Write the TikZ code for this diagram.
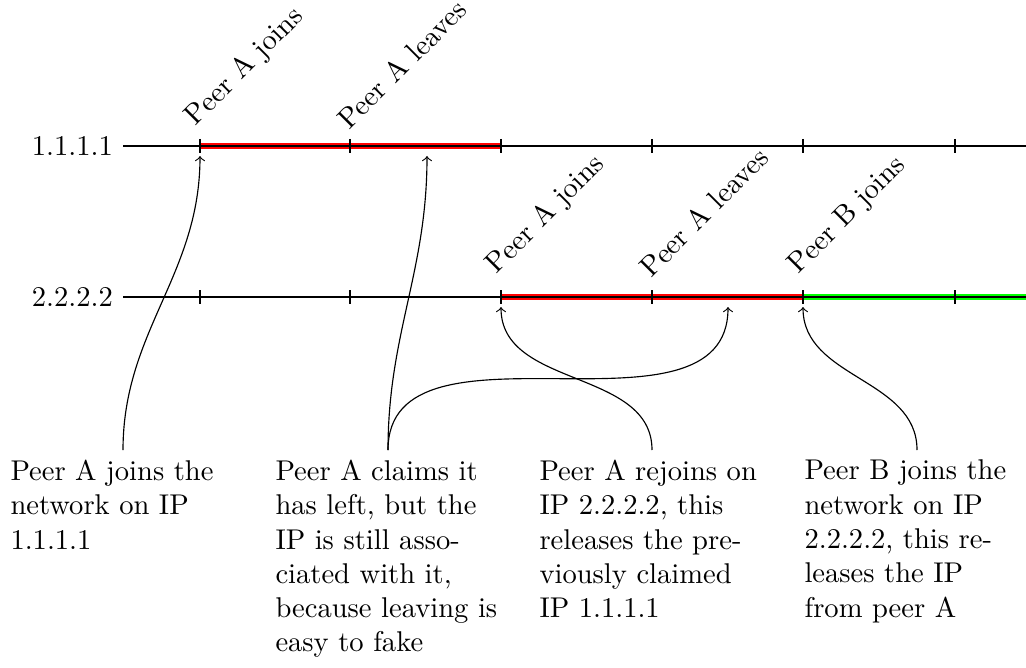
\documentclass[tikz,border=0pt]{standalone}
\begin{document}
\begin{tikzpicture}[x=0.35pt,y=0.35pt,
  bar/.style={line width=2pt},
  evlabel/.style={rotate=45,anchor=south west},
  desc/.style={text width=78.75pt, align=left, anchor=north},
  conn/.style={->}
]
\useasboundingbox (0,0) rectangle (1026,-667);
% line end points
\coordinate (as) at (123,-146); \coordinate (ae) at (1026,-146);
\coordinate (bs) at (123,-297); \coordinate (be) at (1026,-297);
% ticks
\foreach \i/\x in {1/200,2/350,3/501,4/652,5/803,6/955}{
  \coordinate (a\i) at (\x,-146);
  \coordinate (b\i) at (\x,-297);
}
% coloured intervals
\draw[bar,red] (a1) -- (a3);
\draw[bar,red] (b3) -- (b5);
\draw[bar,green] (b5) -- (be);
% axes
\draw (as) -- (ae);
\draw (bs) -- (be);
\foreach \i in {1,...,6}{
  \draw (a\i) ++(0,7) -- ++(0,-14);
  \draw (b\i) ++(0,7) -- ++(0,-14);
}
\node[left] (la) at (as) {1.1.1.1};
\node[left] (lb) at (bs) {2.2.2.2};
% event labels
\node[evlabel] (ea1) at ([yshift=0.3pt]a1) {Peer A joins};
\node[evlabel] (ea2) at ([yshift=0.3pt]a2) {Peer A leaves};
\node[evlabel] (eb3) at ([yshift=1.5pt]b3) {Peer A joins};
\node[evlabel] (eb4) at ([yshift=1.5pt]b4) {Peer A leaves};
\node[evlabel] (eb5) at ([yshift=1.5pt]b5) {Peer B joins};
% arrow targets
\coordinate (ta1) at (200,-156);
\coordinate (ta2) at (427,-156);
\coordinate (tb3) at (501,-307);
\coordinate (tb4) at (728,-307);
\coordinate (tb5) at (803,-307);
% descriptions
\node[desc] (d1) at (123,-450) {Peer A joins the\\network on IP\\1.1.1.1};
\node[desc] (d2) at (388,-450) {Peer A claims it\\has left, but the\\IP is still asso-\\ciated with it,\\because leaving is\\easy to fake};
\node[desc] (d3) at (652,-450) {Peer A rejoins on\\IP 2.2.2.2, this\\releases the pre-\\viously claimed\\IP 1.1.1.1};
\node[desc] (d4) at (917,-450) {Peer B joins the\\network on IP\\2.2.2.2, this re-\\leases the IP\\from peer A};
% connectors
\draw[conn] (d1.north) to[out=90,in=-90] (ta1);
\draw[conn] (d2.north) to[out=90,in=-90] (ta2);
\draw[conn] (d2.north) to[out=90,in=-90] (tb4);
\draw[conn] (d3.north) to[out=90,in=-90] (tb3);
\draw[conn] (d4.north) to[out=90,in=-90] (tb5);
\end{tikzpicture}
\end{document}
